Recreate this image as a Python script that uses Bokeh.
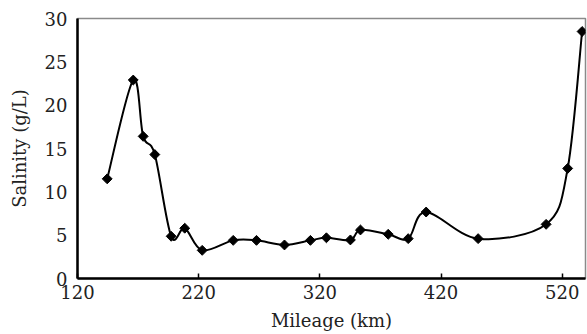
import numpy as np
from bokeh.plotting import figure
from bokeh.models import ColumnDataSource, FixedTicker, Range1d
from bokeh.embed import file_html
from bokeh.resources import INLINE

# ---- data ----
mileage = [144.5, 166.0, 174.2, 183.8, 197.3, 208.5, 222.9, 248.5, 267.7, 290.8,
           312.2, 325.4, 345.2, 353.5, 376.4, 392.9, 407.7, 450.6, 506.7, 524.5, 536.4]
salinity = [11.5, 22.9, 16.4, 14.3, 4.87, 5.8, 3.25, 4.4, 4.4, 3.87,
            4.4, 4.7, 4.45, 5.6, 5.1, 4.6, 7.67, 4.6, 6.25, 12.7, 28.5]
x_ticks = [120, 220, 320, 420, 520]
y_ticks = [0, 5, 10, 15, 20, 25, 30]
x_title = "Mileage (km)"
y_title = "Salinity (g/L)"

FONT = "DejaVu Serif"

p = figure(output_backend="svg", toolbar_location=None,
           frame_width=508, frame_height=260,
           min_border_left=77, min_border_right=2,
           min_border_top=18, min_border_bottom=56,
           x_range=Range1d(120, 539.2), y_range=Range1d(0, 30))

# smoothed line (Catmull-Rom style bezier segments between the data points)
xs = np.array(mileage)
ys = np.array(salinity)
n = len(xs)
x0, y0, x1, y1, cx0, cy0, cx1, cy1 = [], [], [], [], [], [], [], []
for i in range(n - 1):
    pm = (xs[max(i - 1, 0)], ys[max(i - 1, 0)])
    pa = (xs[i], ys[i])
    pb = (xs[i + 1], ys[i + 1])
    pn = (xs[min(i + 2, n - 1)], ys[min(i + 2, n - 1)])
    x0.append(pa[0]); y0.append(pa[1]); x1.append(pb[0]); y1.append(pb[1])
    cx0.append(pa[0] + (pb[0] - pm[0]) / 6.0); cy0.append(pa[1] + (pb[1] - pm[1]) / 6.0)
    cx1.append(pb[0] - (pn[0] - pa[0]) / 6.0); cy1.append(pb[1] - (pn[1] - pa[1]) / 6.0)
bsrc = ColumnDataSource(dict(x0=x0, y0=y0, x1=x1, y1=y1, cx0=cx0, cy0=cy0, cx1=cx1, cy1=cy1))
p.bezier(x0="x0", y0="y0", x1="x1", y1="y1", cx0="cx0", cy0="cy0", cx1="cx1", cy1="cy1",
         source=bsrc, line_color="black", line_width=2)

src = ColumnDataSource(dict(x=mileage, y=salinity))
p.scatter("x", "y", source=src, marker="square", angle=np.pi / 4, size=7,
          fill_color="black", line_color="black")

p.grid.visible = False
p.outline_line_color = "#8a8a8a"
p.outline_line_width = 1.5
p.background_fill_color = "white"
p.border_fill_color = "white"

p.xaxis.ticker = FixedTicker(ticks=x_ticks)
p.yaxis.ticker = FixedTicker(ticks=y_ticks)
p.xaxis.axis_label = x_title
p.yaxis.axis_label = y_title

for ax in (p.xaxis[0], p.yaxis[0]):
    ax.axis_line_color = "black"
    ax.axis_line_width = 2.5
    ax.major_label_text_font = FONT
    ax.major_label_text_font_size = "18px"
    ax.major_label_text_color = "#222222"
    ax.axis_label_text_font = FONT
    ax.axis_label_text_font_size = "18px"
    ax.axis_label_text_font_style = "normal"
    ax.axis_label_text_color = "#222222"
    ax.minor_tick_line_color = None
    ax.major_tick_line_color = "black"
    ax.major_tick_line_width = 1.5

p.xaxis.major_tick_in = 5
p.xaxis.major_tick_out = 0
p.xaxis.major_label_standoff = 6
p.xaxis.axis_label_standoff = 8
p.yaxis.major_tick_in = 0
p.yaxis.major_tick_out = 0
p.yaxis.major_label_standoff = 10
p.yaxis.axis_label_standoff = 12

open("out.html", "w").write(file_html(p, INLINE))
